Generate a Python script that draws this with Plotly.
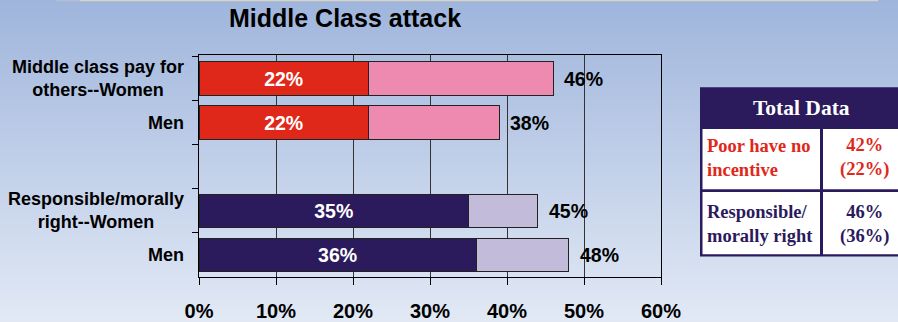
import plotly.graph_objects as go

# ---------------- data ----------------
row_keys = ["mc_women", "mc_men", "spacer", "rm_women", "rm_men"]
row_labels = ["Middle class pay for<br>others--Women", "Men", "", "Responsible/morally<br>right--Women", "Men"]
first_values = [22, 22, None, 35, 36]
total_values = [46, 39, None, 44, 48]
first_labels = ["22%", "22%", "", "35%", "36%"]
total_labels = ["46%", "38%", "", "45%", "48%"]
x_ticks = [0, 10, 20, 30, 40, 50, 60]
x_tick_labels = ["0%", "10%", "20%", "30%", "40%", "50%", "60%"]

table_header = "Total Data"
table_rows = ["Poor have no<br>incentive", "Responsible/<br>morally right"]
table_values = ["42%<br>(22%)", "46%<br>(36%)"]

title = "Middle Class attack"

# ---------------- styles ----------------
RED, PINK = "#E0281A", "#EE8AB0"
NAVY, LAV = "#2B1A5C", "#C3BBDA"
first_colors = [RED, RED, RED, NAVY, NAVY]
second_colors = [PINK, PINK, PINK, LAV, LAV]
SANS = "Liberation Sans, Arial, sans-serif"
SERIF = "Liberation Serif, Times New Roman, serif"

W, H = 898, 322
L, R, T, B = 199, 237, 55, 45
PW, PH = W - L - R, H - T - B


def px(x):
    return (x - L) / PW


def py(y):
    return (H - B - y) / PH


second_values = [None if (t is None or f is None) else t - f for f, t in zip(first_values, total_values)]

fig = go.Figure()
fig.add_trace(go.Bar(
    y=row_keys, x=first_values, orientation="h",
    marker=dict(color=first_colors, line=dict(color="#222222", width=1)),
    text=first_labels, textposition="inside", insidetextanchor="middle",
    textangle=0, constraintext="none",
    textfont=dict(family=SANS, size=19.5, color="white", weight="bold"),
    hoverinfo="skip",
))
fig.add_trace(go.Bar(
    y=row_keys, x=second_values, orientation="h",
    marker=dict(color=second_colors, line=dict(color="#222222", width=1)),
    hoverinfo="skip",
))

# background gradient
shapes = []
top_c = (159, 181, 220)
bot_c = (226, 233, 245)
step = 2
for y0 in range(0, H, step):
    t = (y0 + step / 2) / H
    c = tuple(round(a + (b - a) * t) for a, b in zip(top_c, bot_c))
    shapes.append(dict(type="rect", xref="paper", yref="paper", layer="below",
                       x0=px(-2), x1=px(W + 2), y0=py(y0 + step + 0.5), y1=py(y0),
                       fillcolor="rgb(%d,%d,%d)" % c, line=dict(width=0)))
# thin top strip
shapes.append(dict(type="rect", xref="paper", yref="paper", layer="below",
                   x0=px(80), x1=px(878), y0=py(1.3), y1=py(0),
                   fillcolor="#D8D4C4", line=dict(width=0)))
shapes.append(dict(type="rect", xref="paper", yref="paper", layer="below",
                   x0=px(56), x1=px(80), y0=py(1.3), y1=py(0),
                   fillcolor="#B4C0D4", line=dict(width=0)))

# table
shapes.append(dict(type="rect", xref="paper", yref="paper", layer="above",
                   x0=px(700), x1=px(912), y0=py(256.5), y1=py(87.3),
                   fillcolor=NAVY, line=dict(width=0)))
for (x0, x1) in [(702.5, 820), (823, 908)]:
    for (y0, y1) in [(129, 189.3), (192, 254.3)]:
        shapes.append(dict(type="rect", xref="paper", yref="paper", layer="above",
                           x0=px(x0), x1=px(x1), y0=py(y1), y1=py(y0),
                           fillcolor="white", line=dict(width=0)))

annotations = []
annotations.append(dict(text=title, x=px(345), y=py(18), xref="paper", yref="paper",
                        xanchor="center", yanchor="middle", showarrow=False,
                        font=dict(family=SANS, size=25, color="black", weight="bold")))
# category labels
for i, lab in enumerate(row_labels):
    if lab:
        annotations.append(dict(text=lab, x=px(185.5), y=i, xref="paper", yref="y",
                                xanchor="right", yanchor="middle", align="center",
                                showarrow=False,
                                font=dict(family=SANS, size=18, color="black", weight="bold")))
# total labels
for i, (tv, tl) in enumerate(zip(total_values, total_labels)):
    if tv is not None:
        annotations.append(dict(text=tl, x=tv, y=i, xref="x", yref="y", xshift=9,
                                xanchor="left", yanchor="middle", showarrow=False,
                                font=dict(family=SANS, size=19.5, color="black", weight="bold")))
# table text
annotations.append(dict(text=table_header, x=px(801), y=py(107.5), xref="paper", yref="paper",
                        xanchor="center", yanchor="middle", showarrow=False,
                        font=dict(family=SERIF, size=21.5, color="white", weight="bold")))
row_colors = [RED, NAVY]
row_centers = [157.5, 224]
for lab, val, col, yc in zip(table_rows, table_values, row_colors, row_centers):
    annotations.append(dict(text=lab, x=px(705), y=py(yc), xref="paper", yref="paper",
                            xanchor="left", yanchor="middle", align="left", showarrow=False,
                            font=dict(family=SERIF, size=18.5, color=col, weight="bold")))
    annotations.append(dict(text=val, x=px(864.5), y=py(yc), xref="paper", yref="paper",
                            xanchor="center", yanchor="middle", align="center", showarrow=False,
                            font=dict(family=SERIF, size=18.5, color=col, weight="bold")))

fig.update_layout(
    width=W, height=H,
    margin=dict(l=L, r=R, t=T, b=B, pad=0, autoexpand=False),
    barmode="stack", bargap=0.24,
    showlegend=False,
    paper_bgcolor="#C0CFE8", plot_bgcolor="rgba(0,0,0,0)",
    shapes=shapes, annotations=annotations,
    xaxis=dict(range=[0, 60], tickmode="array", tickvals=x_ticks, ticktext=x_tick_labels,
               showgrid=True, gridcolor="#333333", gridwidth=1, automargin=False,
               showline=True, linecolor="black", linewidth=1, mirror=True,
               ticks="outside", ticklen=7, tickcolor="black", zeroline=False,
               ticklabelstandoff=9,
               tickfont=dict(family=SANS, size=20, color="black", weight="bold")),
    yaxis=dict(type="category", categoryorder="array", categoryarray=row_keys,
               autorange="reversed", showticklabels=False, automargin=False,
               tickson="boundaries", ticks="outside", ticklen=6, tickcolor="black",
               showgrid=False, showline=True, linecolor="black", linewidth=1, mirror=True,
               zeroline=False),
)

fig.write_html("out.html")
